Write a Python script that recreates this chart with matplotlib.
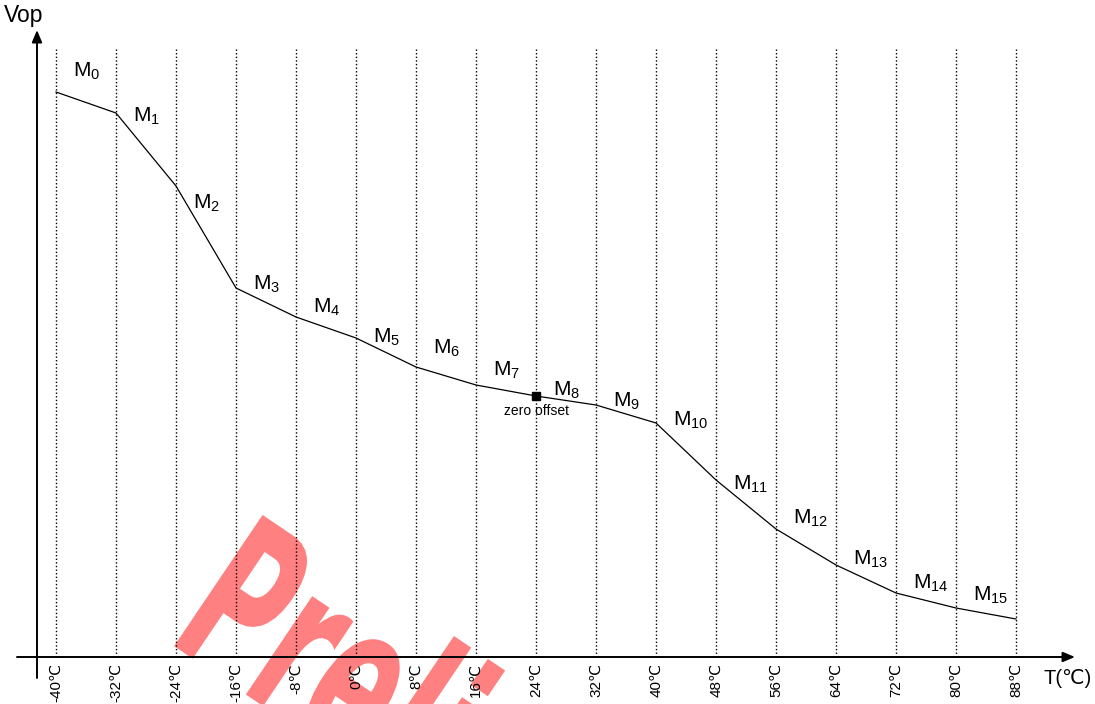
import numpy as np
import matplotlib
matplotlib.use("Agg")
import matplotlib.pyplot as plt
from matplotlib.textpath import TextPath
from matplotlib.patches import PathPatch
from matplotlib.font_manager import FontProperties
from matplotlib.transforms import Affine2D, IdentityTransform

# Temperature breakpoints (°C) and the operating voltage curve (arbitrary units)
temps = [-40, -32, -24, -16, -8, 0, 8, 16, 24, 32, 40, 48, 56, 64, 72, 80, 88]
vop = [5.65, 5.44, 4.71, 3.69, 3.40, 3.19, 2.90, 2.72, 2.61,
       2.52, 2.34, 1.77, 1.28, 0.92, 0.64, 0.49, 0.38]
segment_names = [f"M$_{{{i}}}$" for i in range(16)]
tick_labels = [f"{t}\u2103" for t in temps]
zero_offset_temp = 24
zero_offset_text = "zero offset"
x_title = "T(\u2103)"
y_title = "Vop"
watermark = "Preliminary"

plt.rcParams["font.family"] = ["Liberation Sans", "DejaVu Sans"]
plt.rcParams["mathtext.default"] = "regular"

W, H = 1095, 704
fig = plt.figure(figsize=(W / 100, H / 100), dpi=100)
ax = fig.add_axes([0, 0, 1, 1])
ax.set_axis_off()

# 7.5 px per degree, 100 px per Vop unit
px_per_deg = 7.5
ax.set_xlim(-40 - 56 / px_per_deg, -40 + (W - 56) / px_per_deg)
ax.set_ylim(6.57 - H / 100, 6.57)

# Watermark, drawn underneath everything
tp = TextPath((0, 0), watermark, size=217,
              prop=FontProperties(family="DejaVu Sans", weight="bold"))
wm_tf = Affine2D().scale(0.55, 1.0).rotate_deg(-34).translate(165, 64)
wm = PathPatch(wm_tf.transform_path(tp), transform=IdentityTransform(),
               facecolor="#ff8080", edgecolor="none", zorder=0.5, clip_on=False)
ax.add_patch(wm)

# Dotted guide lines at each breakpoint
x_left = -40 - (56 - 37) / px_per_deg
for t in temps:
    ax.plot([t, t], [0, 6.09], color="black", lw=1.0,
            linestyle=(0, (1, 1.6)), zorder=1)

# Axes with arrows
arrow = dict(arrowstyle="-|>,head_length=0.6,head_width=0.25", color="black",
             lw=1.4, shrinkA=0, shrinkB=0, mutation_scale=12)
ax.annotate("", xy=(x_left, 6.27), xytext=(x_left, -0.21), arrowprops=arrow, zorder=3)
ax.annotate("", xy=(-40 + 1019 / px_per_deg, 0), xytext=(-40 - 39 / px_per_deg, 0),
            arrowprops=arrow, zorder=3)

# Vop curve
ax.plot(temps, vop, color="black", lw=0.9, zorder=4)

# Zero offset marker
zv = np.interp(zero_offset_temp, temps, vop)
ax.plot([zero_offset_temp], [zv], marker="s", ms=5.5, color="black", zorder=5)
ax.annotate(zero_offset_text, xy=(zero_offset_temp, zv), xytext=(0, -15),
            textcoords="offset pixels", ha="center", va="center", fontsize=10)

# Segment labels
label_rise = [25, 27, 27, 12, 14, 9, 22, 15, 5, 7, 25, 14, 23, 14, 12, 13]
for i, name in enumerate(segment_names):
    xl = temps[i] + 17 / px_per_deg
    xc = temps[i] + 29 / px_per_deg
    yc = np.interp(xc, temps, vop)
    ax.annotate(name, xy=(xl, yc), xytext=(0, label_rise[i]),
                textcoords="offset pixels", ha="left", va="baseline",
                fontsize=15, zorder=6)

# Tick labels under the temperature axis
for t, lab in zip(temps, tick_labels):
    ax.text(t, -0.06, lab, rotation=90, ha="center", va="top", fontsize=11)

# Axis titles
ax.text(-40 - 32 / px_per_deg, 6.41, y_title, ha="center", va="center", fontsize=16.5)
ax.text(-40 + 1012 / px_per_deg, -0.21, x_title, ha="center", va="center", fontsize=14.5)

fig.savefig("out.png", dpi=100)
